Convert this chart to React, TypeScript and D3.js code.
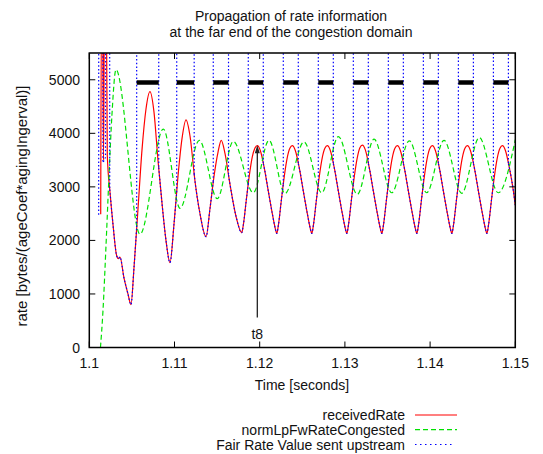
import React from 'react';
import * as d3 from 'd3';

const W = 543;
const H = 454;
const PLOT = { left: 89.3, right: 515.3, top: 53, bottom: 347.5 };
const FONT = '"Liberation Sans", Arial, Helvetica, sans-serif';

const titleLines = ['Propagation of rate information', 'at the far end of the congestion domain'];
const xLabel = 'Time [seconds]';
const yLabel = 'rate [bytes/(ageCoef*agingIngerval)]';
const xDomain: [number, number] = [1.1, 1.15];
const yDomain: [number, number] = [0, 5500];
const xTicks = [1.1, 1.11, 1.12, 1.13, 1.14, 1.15];
const xTickLabels = ['1.1', '1.11', '1.12', '1.13', '1.14', '1.15'];
const yTicks = [0, 1000, 2000, 3000, 4000, 5000];
const seriesNames = ['receivedRate', 'normLpFwRateCongested', 'Fair Rate Value sent upstream'];

// receivedRate [time, rate]
const receivedRate: [number, number][] = [
  [1.10134, 2490], [1.10143, 6500], [1.10156, 6500], [1.10167, 3500], [1.10178, 6500], [1.10200, 6500],
  [1.10211, 3600], [1.10243, 2900], [1.10278, 2300], [1.10322, 1710], [1.10343, 1660], [1.10360, 1690],
  [1.10407, 1300], [1.10454, 1000], [1.10489, 800], [1.10525, 1500], [1.10572, 2600], [1.10619, 3700],
  [1.10665, 4450], [1.10712, 4780], [1.10759, 4400], [1.10806, 3500], [1.10853, 2700], [1.10900, 2000],
  [1.10947, 1585], [1.10994, 2300], [1.11041, 3200], [1.11088, 3900], [1.11135, 4250], [1.11182, 3950],
  [1.11241, 3100], [1.11299, 2500], [1.11370, 2070], [1.11417, 2600], [1.11464, 3200], [1.11511, 3650],
  [1.11549, 3870], [1.11593, 3620], [1.11651, 3050], [1.11722, 2450], [1.11789, 2145],
  [1.11808, 2290], [1.11843, 2760], [1.11878, 3210], [1.11913, 3560], [1.11943, 3720], [1.11972, 3770],
  [1.12007, 3680], [1.12054, 3350], [1.12101, 2920], [1.12148, 2500], [1.12183, 2220], [1.12200, 2130],
  [1.12219, 2280], [1.12254, 2750], [1.12289, 3200], [1.12324, 3550], [1.12354, 3720], [1.12383, 3770],
  [1.12418, 3680], [1.12465, 3350], [1.12512, 2920], [1.12559, 2500], [1.12594, 2220], [1.12611, 2130],
  [1.12630, 2280], [1.12665, 2750], [1.12700, 3200], [1.12735, 3550], [1.12765, 3720], [1.12794, 3770],
  [1.12829, 3680], [1.12876, 3350], [1.12923, 2920], [1.12970, 2500], [1.13005, 2220], [1.13022, 2130],
  [1.13041, 2280], [1.13076, 2750], [1.13111, 3200], [1.13146, 3550], [1.13176, 3730], [1.13205, 3780],
  [1.13240, 3690], [1.13287, 3350], [1.13334, 2920], [1.13381, 2500], [1.13416, 2220], [1.13433, 2130],
  [1.13452, 2280], [1.13487, 2750], [1.13522, 3200], [1.13557, 3550], [1.13587, 3720], [1.13616, 3770],
  [1.13651, 3680], [1.13698, 3350], [1.13745, 2920], [1.13792, 2500], [1.13827, 2220], [1.13844, 2130],
  [1.13863, 2280], [1.13898, 2750], [1.13933, 3200], [1.13968, 3550], [1.13998, 3720], [1.14027, 3770],
  [1.14062, 3680], [1.14109, 3350], [1.14156, 2920], [1.14203, 2500], [1.14238, 2220], [1.14255, 2130],
  [1.14274, 2280], [1.14309, 2750], [1.14344, 3200], [1.14379, 3550], [1.14409, 3720], [1.14438, 3770],
  [1.14473, 3680], [1.14520, 3350], [1.14567, 2920], [1.14614, 2500], [1.14649, 2220], [1.14666, 2130],
  [1.14685, 2280], [1.14720, 2750], [1.14755, 3200], [1.14790, 3550], [1.14820, 3720], [1.14849, 3770],
  [1.14884, 3680], [1.14931, 3350], [1.14978, 2920], [1.15000, 2660],
];

// normLpFwRateCongested [time, rate]
const normLpFwRateCongested: [number, number][] = [
  [1.10131, 0], [1.10161, 700], [1.10196, 1900], [1.10231, 3200], [1.10266, 4350], [1.10313, 5190],
  [1.10595, 2115], [1.10869, 4080], [1.11065, 2600], [1.11291, 3870], [1.11502, 2780], [1.11690, 3850],
  [1.11925, 2890], [1.12109, 3870], [1.12297, 2875], [1.12520, 3840], [1.12728, 2890], [1.12923, 3940],
  [1.13146, 2860], [1.13342, 3890], [1.13549, 2890], [1.13756, 3860], [1.13960, 2890], [1.14163, 3870],
  [1.14371, 2880], [1.14577, 3920], [1.14800, 2890], [1.15000, 3880],
];

// Fair Rate Value sent upstream: start-up part, then jumps off scale between up/down times
const fairLead: [number, number][] = [
  [1.10110, 2480], [1.10111, 9000], [1.10158, 9000], [1.10160, 3450], [1.10190, 3550],
  [1.10192, 9000], [1.10238, 9000], [1.10240, 2950],
];
const fairUpT = [1.10556, 1.11026, 1.11455, 1.11866, 1.12277, 1.12688, 1.13099, 1.13510, 1.13921, 1.14332, 1.14743];
const fairUpV = [2250, 2900, 3100, 3050, 3050, 3050, 3050, 3050, 3050, 3050, 3050];
const fairDownT = [1.10815, 1.11231, 1.11634, 1.12042, 1.12453, 1.12864, 1.13275, 1.13686, 1.14097, 1.14508, 1.14919];
const fairDownV = [3360, 3240, 3220, 3430, 3430, 3430, 3430, 3430, 3430, 3430, 3430];
const fairOffScale = 9000;
const congestionBarLevel = 4950;

const arrowT = 1.11972;
const arrowFrom = 560;
const arrowTo = 3775;
const arrowLabel = 't8';
const arrowLabelValue = 250;

const RED = '#ff0000';
const GREEN = '#00e000';
const BLUE = '#0000ff';

export default function App() {
  const x = d3.scaleLinear().domain(xDomain).range([PLOT.left, PLOT.right]);
  const y = d3.scaleLinear().domain(yDomain).range([PLOT.bottom, PLOT.top]);

  const smooth = d3
    .line<[number, number]>()
    .x((d) => x(d[0]))
    .y((d) => y(d[1]))
    .curve(d3.curveMonotoneX);
  const straight = d3
    .line<[number, number]>()
    .x((d) => x(d[0]))
    .y((d) => y(d[1]));

  const follow = (t0: number, v0: number, t1: number, v1: number): [number, number][] => [
    [t0, v0],
    ...receivedRate.filter(([t]) => t > t0 + 1e-7 && t < t1 - 1e-7),
    [t1, v1],
  ];

  const bluePaths: string[] = [];
  bluePaths.push(straight(fairLead) as string);
  const leadEnd = fairLead[fairLead.length - 1];
  bluePaths.push(smooth(follow(leadEnd[0], leadEnd[1], fairUpT[0], fairUpV[0])) as string);
  fairUpT.forEach((u, i) => {
    bluePaths.push(straight([[u, fairUpV[i]], [u, fairOffScale]]) as string);
    const d = fairDownT[i];
    bluePaths.push(straight([[d, fairOffScale], [d, fairDownV[i]]]) as string);
    if (i + 1 < fairUpT.length) {
      bluePaths.push(smooth(follow(d, fairDownV[i], fairUpT[i + 1], fairUpV[i + 1])) as string);
    } else {
      const last = receivedRate[receivedRate.length - 1];
      bluePaths.push(smooth(follow(d, fairDownV[i], last[0], last[1])) as string);
    }
  });

  const legendY = [415, 429.7, 444.5];
  const legendX0 = 415;
  const legendX1 = 457;

  return (
    <svg
      width={W}
      height={H}
      viewBox={`0 0 ${W} ${H}`}
      style={{ position: 'absolute', left: 0, top: 0, background: '#fff' }}
      fontFamily={FONT}
    >
      <defs>
        <clipPath id="plotClip">
          <rect x={PLOT.left} y={PLOT.top} width={PLOT.right - PLOT.left} height={PLOT.bottom - PLOT.top} />
        </clipPath>
      </defs>
      <rect x={0} y={0} width={W} height={H} fill="#fff" />

      {/* title */}
      <text x={291} y={21} textAnchor="middle" fontSize={14} fill="#111">
        {titleLines[0]}
      </text>
      <text x={291} y={37} textAnchor="middle" fontSize={14} fill="#111">
        {titleLines[1]}
      </text>

      {/* series */}
      <g clipPath="url(#plotClip)">
        <path d={smooth(receivedRate) as string} fill="none" stroke={RED} strokeWidth={1.2} />
        <path
          d={smooth(normLpFwRateCongested) as string}
          fill="none"
          stroke={GREEN}
          strokeWidth={1.2}
          strokeDasharray="5,3"
        />
        {bluePaths.map((p, i) => (
          <path key={i} d={p} fill="none" stroke={BLUE} strokeWidth={1.2} strokeDasharray="1.5,2.2" />
        ))}
        {fairUpT.map((u, i) => (
          <line
            key={'bar' + i}
            x1={x(u)}
            x2={x(fairDownT[i])}
            y1={y(congestionBarLevel)}
            y2={y(congestionBarLevel)}
            stroke="#000"
            strokeWidth={4.5}
          />
        ))}
      </g>

      {/* arrow annotation */}
      <line
        x1={x(arrowT)}
        x2={x(arrowT)}
        y1={y(arrowFrom)}
        y2={y(arrowTo) + 6}
        stroke="#222"
        strokeWidth={1.3}
      />
      <path
        d={`M${x(arrowT)},${y(arrowTo)} L${x(arrowT) - 2.5},${y(arrowTo) + 8} L${x(arrowT) + 2.5},${y(arrowTo) + 8} Z`}
        fill="#222"
      />
      <text x={x(arrowT)} y={y(arrowLabelValue) + 5} textAnchor="middle" fontSize={14} fill="#111">
        {arrowLabel}
      </text>

      {/* ticks */}
      {xTicks.map((t, i) => (
        <g key={'xt' + i}>
          <line x1={x(t)} x2={x(t)} y1={PLOT.bottom} y2={PLOT.bottom - 6} stroke="#000" strokeWidth={1} />
          <line x1={x(t)} x2={x(t)} y1={PLOT.top} y2={PLOT.top + 6} stroke="#000" strokeWidth={1} />
          <text x={x(t)} y={PLOT.bottom + 20} textAnchor="middle" fontSize={14} fill="#111">
            {xTickLabels[i]}
          </text>
        </g>
      ))}
      {yTicks.map((v, i) => (
        <g key={'yt' + i}>
          <line x1={PLOT.left} x2={PLOT.left + 6} y1={y(v)} y2={y(v)} stroke="#000" strokeWidth={1} />
          <line x1={PLOT.right} x2={PLOT.right - 6} y1={y(v)} y2={y(v)} stroke="#000" strokeWidth={1} />
          <text x={80} y={y(v) + 5} textAnchor="end" fontSize={14} fill="#111">
            {String(v)}
          </text>
        </g>
      ))}

      {/* border */}
      <rect
        x={PLOT.left}
        y={PLOT.top}
        width={PLOT.right - PLOT.left}
        height={PLOT.bottom - PLOT.top}
        fill="none"
        stroke="#000"
        strokeWidth={1.5}
      />

      {/* axis labels */}
      <text x={302} y={390} textAnchor="middle" fontSize={14} fill="#111">
        {xLabel}
      </text>
      <text
        transform={`translate(27, 206) rotate(-90)`}
        textAnchor="middle"
        fontSize={15}
        fill="#111"
      >
        {yLabel}
      </text>

      {/* legend */}
      {seriesNames.map((name, i) => (
        <text key={'lt' + i} x={405} y={legendY[i] + 5} textAnchor="end" fontSize={14} fill="#111">
          {name}
        </text>
      ))}
      <line x1={legendX0} x2={legendX1} y1={legendY[0]} y2={legendY[0]} stroke={RED} strokeWidth={1.2} />
      <line
        x1={legendX0}
        x2={legendX1}
        y1={legendY[1]}
        y2={legendY[1]}
        stroke={GREEN}
        strokeWidth={1.2}
        strokeDasharray="5,3"
      />
      <line
        x1={legendX0}
        x2={legendX1 - 3}
        y1={legendY[2]}
        y2={legendY[2]}
        stroke={BLUE}
        strokeWidth={1.2}
        strokeDasharray="1.5,3.5"
      />
    </svg>
  );
}
